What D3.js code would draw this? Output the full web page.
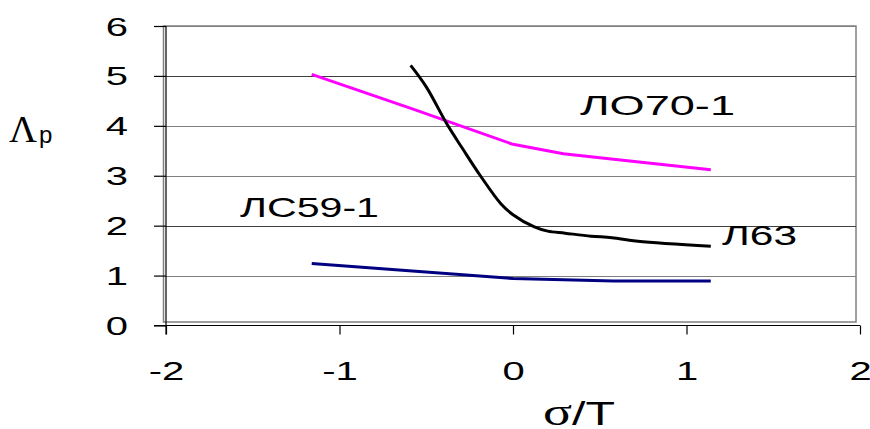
<!DOCTYPE html>
<html><head><meta charset="utf-8">
<script src="https://cdn.jsdelivr.net/npm/d3@7"></script>
<style>
html,body{margin:0;padding:0;background:#fff;}
svg{display:block;}
text{font-family:"Liberation Sans",Arial,sans-serif;fill:#000;}
</style>
</head><body>
<svg id="chart" width="870" height="429"></svg>
<script>
// ---- data ----
const xTicks = [-2, -1, 0, 1, 2];
const yTicks = [0, 1, 2, 3, 4, 5, 6];

const lo70X = [-1.16, -0.58, 0, 0.29, 0.58, 1.14];
const lo70Y = [5.03, 4.34, 3.63, 3.44, 3.33, 3.12];

const l63X = [-0.59, -0.5, -0.38, -0.29, -0.19, -0.07, 0, 0.12, 0.2, 0.3, 0.45, 0.57, 0.72, 1.14];
const l63Y = [5.21, 4.78, 4.03, 3.54, 3.01, 2.44, 2.22, 1.98, 1.89, 1.85, 1.79, 1.76, 1.69, 1.59];

const lc59X = [-1.16, -0.58, 0, 0.58, 1.14];
const lc59Y = [1.24, 1.09, 0.94, 0.89, 0.89];

const seriesNames = ["ЛО70-1", "Л63", "ЛС59-1"];
const seriesColors = ["#FF00FF", "#000000", "#000080"];

// ---- layout ----
const svg = d3.select("#chart");
const x = d3.scaleLinear().domain([-2, 2]).range([166, 860]);
const y = d3.scaleLinear().domain([0, 6]).range([325.5, 26]);
const SX = 1.6;
const fmt = d => String(d);

// plot area border
svg.append("rect")
  .attr("x", 163.5).attr("y", y(6)).attr("width", 856 - 163.5).attr("height", 322 - y(6))
  .attr("fill", "none").attr("stroke", "#808080").attr("stroke-width", 1.5);

// gridlines
svg.append("g").selectAll("line").data(yTicks.filter(d => d > 0)).join("line")
  .attr("x1", x(-2)).attr("x2", 856)
  .attr("y1", d => Math.round(y(d)) + 0.5).attr("y2", d => Math.round(y(d)) + 0.5)
  .attr("stroke", d => (d === 5 || d === 2) ? "#404040" : "#808080").attr("stroke-width", 1.2);

// y axis
const yAxis = svg.append("g").attr("transform", `translate(${x(-2)},0)`)
  .call(d3.axisLeft(y).tickValues(yTicks).tickSize(12).tickPadding(0).tickFormat(fmt));
yAxis.select(".domain").attr("stroke", "#000").attr("stroke-width", 1.2).attr("d", `M0,${y(6)}V${y(0) + 9}`);
yAxis.selectAll(".tick line").attr("stroke", "#000").attr("stroke-width", 1.2);
yAxis.selectAll(".tick text")
  .attr("font-size", 25).attr("font-family", "Liberation Sans, Arial, sans-serif")
  .attr("x", -38 / SX).attr("dy", "0.36em").attr("text-anchor", "end")
  .attr("transform", `scale(${SX},1)`);

// x axis
const xAxis = svg.append("g").attr("transform", `translate(0,${y(0)})`)
  .call(d3.axisBottom(x).tickValues(xTicks).tickSize(9).tickPadding(0).tickFormat(fmt));
xAxis.select(".domain").attr("stroke", "#000").attr("stroke-width", 1.2).attr("d", `M${x(-2) - 12},0H${x(2)}`);
xAxis.selectAll(".tick line").attr("stroke", "#000").attr("stroke-width", 1.2);
xAxis.selectAll(".tick text")
  .attr("font-size", 25).attr("font-family", "Liberation Sans, Arial, sans-serif")
  .attr("x", 0).attr("y", 54.5).attr("dy", 0).attr("text-anchor", "middle")
  .attr("transform", `scale(${SX},1)`);

// series lines
const seriesData = [
  lo70X.map((d, i) => [d, lo70Y[i]]),
  l63X.map((d, i) => [d, l63Y[i]]),
  lc59X.map((d, i) => [d, lc59Y[i]])
];
const curves = [d3.curveLinear, d3.curveCatmullRom.alpha(0.5), d3.curveLinear];
seriesData.forEach((pts, i) => {
  svg.append("path")
    .attr("d", d3.line().x(d => x(d[0])).y(d => y(d[1])).curve(curves[i])(pts))
    .attr("fill", "none").attr("stroke", seriesColors[i]).attr("stroke-width", 3)
    .attr("stroke-linejoin", "round");
});

// series labels
const labelPos = [
  {x: 580, y: 115, w: 155},
  {x: 722, y: 245, w: 75},
  {x: 240, y: 217, w: 139}
];
seriesNames.forEach((name, i) => {
  svg.append("text").attr("x", labelPos[i].x).attr("y", labelPos[i].y)
    .attr("font-size", 28).attr("textLength", labelPos[i].w).attr("lengthAdjust", "spacingAndGlyphs")
    .text(name);
});

// y title: Λp
const yt = svg.append("text").attr("x", 9).attr("y", 142);
yt.append("tspan").attr("font-family", "Liberation Serif, Times New Roman, serif").attr("font-size", 37)
  .attr("textLength", 28).attr("lengthAdjust", "spacingAndGlyphs").text("Λ");
yt.append("tspan").attr("font-size", 24).attr("dy", 1).attr("dx", 2).text("p");

// x title: σ/T
svg.append("text").attr("x", 543).attr("y", 425)
  .attr("textLength", 72).attr("lengthAdjust", "spacingAndGlyphs")
  .html('<tspan font-family="Liberation Serif, Times New Roman, serif" font-size="38">σ</tspan><tspan font-size="34">/T</tspan>');
</script>
</body></html>
